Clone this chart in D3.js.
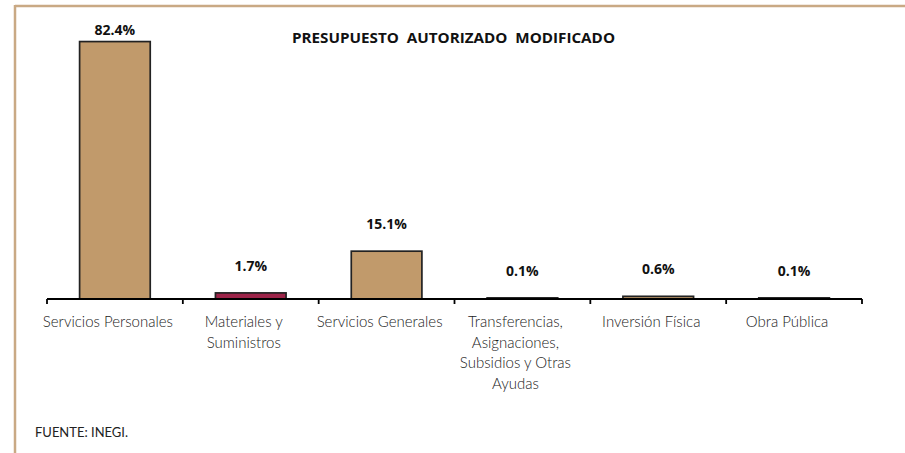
<!DOCTYPE html>
<html>
<head>
<meta charset="utf-8">
<script src="https://cdn.jsdelivr.net/npm/d3@7"></script>
<style>
  html, body { margin: 0; padding: 0; background: #fff; }
  svg { display: block; }
</style>
</head>
<body>
<svg id="chart" width="905" height="453"></svg>
<script>
// ---- data ----
const categories = [
  "Servicios Personales",
  "Materiales y Suministros",
  "Servicios Generales",
  "Transferencias, Asignaciones, Subsidios y Otras Ayudas",
  "Inversión Física",
  "Obra Pública"
];
const values = [82.4, 1.7, 15.1, 0.1, 0.6, 0.1];
const valueLabels = ["82.4%", "1.7%", "15.1%", "0.1%", "0.6%", "0.1%"];
const barColors = ["#C19A6B", "#9D2449", "#C19A6B", "#C19A6B", "#C19A6B", "#C19A6B"];
const title = "PRESUPUESTO\u00A0\u00A0AUTORIZADO\u00A0\u00A0MODIFICADO";
const source = "FUENTE: INEGI.";

// ---- layout ----
const W = 905, H = 453;
const svg = d3.select("#chart");

// frame (tan border top and left)
svg.append("line").attr("x1", 15).attr("x2", W).attr("y1", 6).attr("y2", 6)
  .attr("stroke", "#C9A984").attr("stroke-width", 2.5);
svg.append("line").attr("x1", 15).attr("x2", 15).attr("y1", 5).attr("y2", H)
  .attr("stroke", "#C9A984").attr("stroke-width", 2.5);

const x = d3.scaleBand().domain(categories).range([47, 862]).paddingInner(0).paddingOuter(0);
const y = d3.scaleLinear().domain([0, 90]).range([299, 18.7]);
const bw = x.bandwidth();
const barW = bw * 0.52;

// bars
svg.append("g").selectAll("rect").data(categories).join("rect")
  .attr("x", d => x(d) + (bw - barW) / 2)
  .attr("width", barW)
  .attr("y", (d, i) => y(values[i]) - 0.8)
  .attr("height", (d, i) => y(0) - y(values[i]) + 0.8)
  .attr("fill", (d, i) => barColors[i])
  .attr("stroke", "#222")
  .attr("stroke-width", 1.7);

// axis line and ticks at band edges
const ax = svg.append("g").attr("stroke", "#000");
ax.append("line").attr("x1", x.range()[0]).attr("x2", x.range()[1])
  .attr("y1", y(0)).attr("y2", y(0)).attr("stroke-width", 1.8);
const tickXs = categories.map(d => x(d)).concat([x.range()[1]]);
ax.selectAll("line.tick").data(tickXs).join("line").attr("class", "tick")
  .attr("x1", d => d).attr("x2", d => d)
  .attr("y1", y(0)).attr("y2", y(0) + 5).attr("stroke-width", 1.8);

// value labels
svg.append("g").selectAll("text").data(categories).join("text")
  .attr("x", d => x(d) + bw / 2)
  .attr("y", (d, i) => Math.max(y(values[i]) - 28, 30))
  .attr("dy", "0.35em")
  .attr("text-anchor", "middle")
  .attr("font-family", "'Open Sans', 'DejaVu Sans', sans-serif")
  .attr("font-weight", 700)
  .attr("font-size", 14)
  .attr("fill", "#111")
  .text((d, i) => valueLabels[i]);

// category labels with wrapping
const catG = svg.append("g");
categories.forEach(cat => {
  const t = catG.append("text")
    .attr("text-anchor", "middle")
    .attr("font-family", "Lato, 'Open Sans', sans-serif")
    .attr("font-weight", 300)
    .attr("font-size", 15)
    .attr("fill", "#222");
  const words = cat.split(" ");
  const lines = [];
  let line = [];
  const probe = t.append("tspan");
  words.forEach(w => {
    const trial = line.concat([w]).join(" ");
    probe.text(trial);
    if (probe.node().getComputedTextLength() > bw - 2 && line.length) {
      lines.push(line.join(" "));
      line = [w];
    } else {
      line.push(w);
    }
  });
  lines.push(line.join(" "));
  probe.remove();
  const cx = x(cat) + bw / 2 - 7;
  lines.forEach((l, i) => {
    t.append("tspan").attr("x", cx).attr("y", 322 + i * 20.5).attr("dy", "0.35em").text(l);
  });
});

// title
svg.append("text")
  .attr("x", 453.5).attr("y", 37.5).attr("dy", "0.35em")
  .attr("text-anchor", "middle")
  .attr("font-family", "'Open Sans', 'DejaVu Sans', sans-serif")
  .attr("font-weight", 700)
  .attr("font-size", 14.5)
  .attr("fill", "#111")
  .attr("textLength", 323)
  .attr("lengthAdjust", "spacingAndGlyphs")
  .text(title);

// source
svg.append("text")
  .attr("x", 35).attr("y", 432.5).attr("dy", "0.35em")
  .attr("font-family", "Lato, 'Open Sans', sans-serif")
  .attr("font-size", 13)
  .attr("fill", "#222")
  .attr("textLength", 93)
  .attr("lengthAdjust", "spacingAndGlyphs")
  .text(source);
</script>
</body>
</html>
